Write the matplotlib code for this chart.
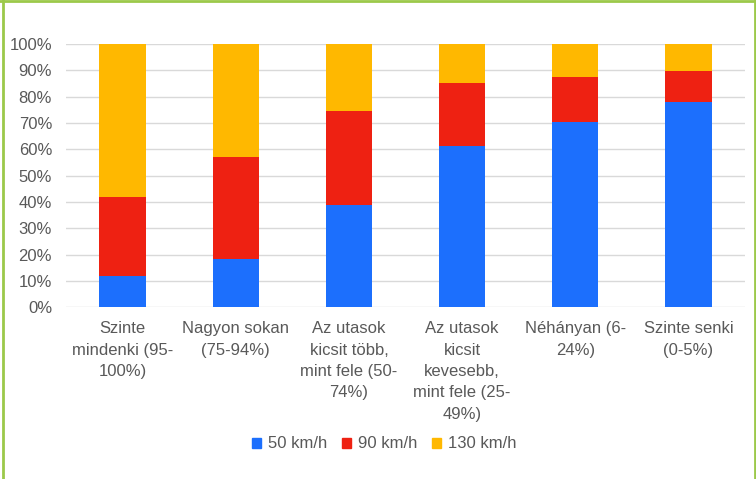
import matplotlib
matplotlib.use("Agg")
import matplotlib.pyplot as plt
from matplotlib.lines import Line2D
from matplotlib.patches import Patch
import numpy as np

plt.rcParams['font.family'] = ['Liberation Sans', 'DejaVu Sans']

categories = [
    "Szinte\nmindenki (95-\n100%)",
    "Nagyon sokan\n(75-94%)",
    "Az utasok\nkicsit több,\nmint fele (50-\n74%)",
    "Az utasok\nkicsit\nkevesebb,\nmint fele (25-\n49%)",
    "Néhányan (6-\n24%)",
    "Szinte senki\n(0-5%)",
]
series_names = ["50 km/h", "90 km/h", "130 km/h"]
v50 = [11.7, 18.4, 38.7, 61.3, 70.2, 77.9]
v90 = [30.1, 38.5, 36.0, 23.8, 17.4, 12.0]
v130 = [58.2, 43.1, 25.3, 14.9, 12.4, 10.1]
yticks = [0, 10, 20, 30, 40, 50, 60, 70, 80, 90, 100]
colors = ["#1c6ffd", "#ee2112", "#ffb800"]

fig = plt.figure(figsize=(7.56, 4.79), dpi=100)
ax = fig.add_axes([66/756, 1-307.3/479, (745-66)/756, (307.3-44)/479])

x = np.arange(len(categories))
w = 0.41
ax.bar(x, v50, w, color=colors[0], zorder=3)
ax.bar(x, v90, w, bottom=v50, color=colors[1], zorder=3)
bottom3 = [a + b for a, b in zip(v50, v90)]
ax.bar(x, v130, w, bottom=bottom3, color=colors[2], zorder=3)

ax.set_xlim(-0.5, len(categories) - 0.5)
ax.set_ylim(0, 100)
ax.set_yticks(yticks)
ax.set_yticklabels([f"{t}%" for t in yticks])
ax.grid(axis='y', color='#d9d9d9', linewidth=1, zorder=0)
ax.set_axisbelow(True)
for s in ax.spines.values():
    s.set_visible(False)
ax.tick_params(axis='y', length=0, pad=10, labelsize=12, labelcolor='#595959')
ax.tick_params(axis='x', length=0, pad=10, labelsize=12, labelcolor='#595959')
ax.set_xticks(x)
ax.set_xticklabels(categories, linespacing=1.53, va='top', ha='center')

handles = [Patch(color=c) for c in colors]
fig.legend(handles, series_names, loc='center', bbox_to_anchor=(384/756, 1-444/479),
           ncol=3, frameon=False, fontsize=12, labelcolor='#595959',
           handlelength=0.55, handleheight=0.55, handletextpad=0.4, columnspacing=0.9)

# green frame
green = '#9cc94a'
fig.add_artist(Line2D([2.5/756, 2.5/756], [0, 1], transform=fig.transFigure, color=green, lw=2))
fig.add_artist(Line2D([0, 1], [1-1/479, 1-1/479], transform=fig.transFigure, color=green, lw=2))
fig.add_artist(Line2D([754.5/756, 754.5/756], [0, 1], transform=fig.transFigure, color=green, lw=2))

fig.savefig("out.png", dpi=100)
